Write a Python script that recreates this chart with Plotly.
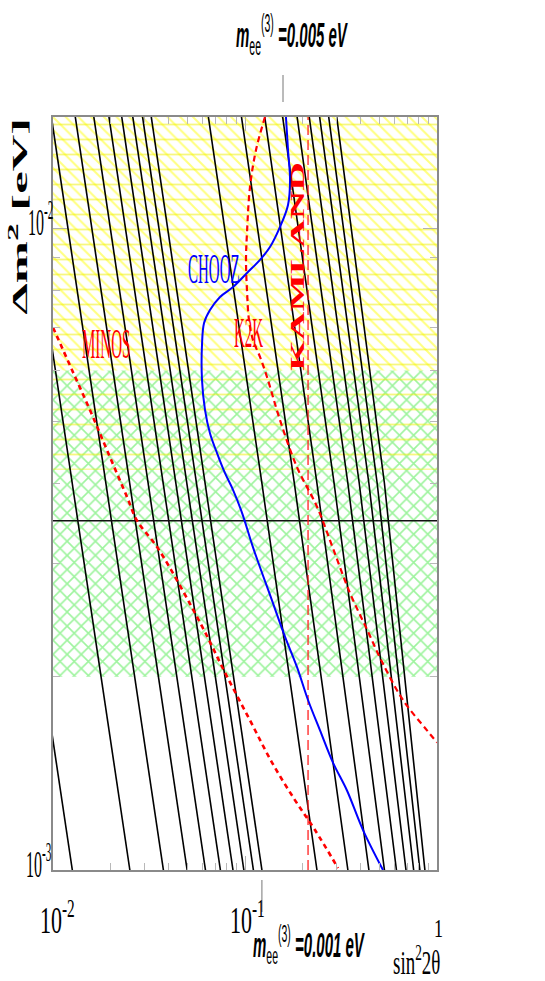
import plotly.graph_objects as go
import json
import math

# ---------------- data ----------------
# m_ee^(3) contour levels [eV]
MEE_LEVELS = [0.0001, 0.0002, 0.0003, 0.0004, 0.0005, 0.0006, 0.0007, 0.0008, 0.0009,
              0.001, 0.002, 0.003, 0.004, 0.005, 0.006, 0.007, 0.008, 0.009, 0.01]
# Delta m^2 values at which the sin^2 2theta position of each contour was read
CONTOUR_DM2 = [0.001, 0.004, 0.016]
CONTOUR_X = [
    [0.012609, 0.006315, 0.003160],
    [0.025138, 0.012609, 0.006315],
    [0.037587, 0.018884, 0.009464],
    [0.049956, 0.025138, 0.012609],
    [0.062246, 0.031373, 0.015749],
    [0.074455, 0.037587, 0.018884],
    [0.086584, 0.043782, 0.022014],
    [0.098633, 0.049956, 0.025138],
    [0.110602, 0.056111, 0.028258],
    [0.122491, 0.062246, 0.031373],
    [0.236982, 0.122491, 0.062246],
    [0.343473, 0.180737, 0.092618],
    [0.441964, 0.236982, 0.122491],
    [0.532456, 0.291228, 0.151864],
    [0.614947, 0.343473, 0.180737],
    [0.689438, 0.393719, 0.209110],
    [0.755929, 0.441964, 0.236982],
    [0.814420, 0.488210, 0.264355],
    [0.864911, 0.532456, 0.291228],
]

MINOS_X = [0.0100, 0.01256, 0.0156, 0.0191, 0.0243, 0.0274, 0.0352, 0.0583, 0.0787,
           0.1062, 0.1383, 0.182, 0.2316, 0.305]
MINOS_Y = [0.0070, 0.00601, 0.0052, 0.00451, 0.00381, 0.00350, 0.00317, 0.00243, 0.00203,
           0.00171, 0.00147, 0.001285, 0.001154, 0.001007]

K2K_X = [0.1271, 0.1141, 0.1062, 0.1024, 0.1012, 0.1024, 0.1049, 0.1101, 0.1197, 0.1302,
         0.1522, 0.1866, 0.2371, 0.2872, 0.3522, 0.4318, 0.517, 0.665, 0.887, 1.0]
K2K_Y = [0.01489, 0.01323, 0.01159, 0.00982, 0.00892, 0.0080, 0.00719, 0.00669, 0.00630,
         0.00586, 0.00502, 0.00424, 0.00368, 0.00317, 0.00270, 0.00237, 0.00211, 0.00184,
         0.00165, 0.00158]

CHOOZ_X = [0.1634, 0.1675, 0.1716, 0.1675, 0.1522, 0.1349, 0.1197, 0.1024, 0.0866, 0.0741,
           0.0657, 0.0612, 0.0597, 0.0597, 0.0619, 0.0657, 0.0715, 0.0787, 0.0866, 0.0965,
           0.1101, 0.1382, 0.1615, 0.1866, 0.2129, 0.2459, 0.2872, 0.3398, 0.4118, 0.5233]
CHOOZ_Y = [0.01489, 0.01323, 0.01188, 0.01086, 0.01004, 0.00934, 0.00892, 0.00851, 0.00809,
           0.00781, 0.00745, 0.00711, 0.00657, 0.00580, 0.00521, 0.00479, 0.00446, 0.00415,
           0.00391, 0.00360, 0.00318, 0.00263, 0.00231, 0.00207, 0.00184, 0.00165, 0.00147,
           0.00133, 0.001154, 0.0010]

KAMLAND_X = 0.213          # vertical dashed line
SK_BEST_DM2 = 0.0035       # horizontal black line
GREEN_BAND = [0.002, 0.006]
YELLOW_LINES_BAND = [0.0042, 0.02]
YELLOW_DIAG_BAND = [0.006, 0.02]

X_RANGE = [0.01, 1.0]
Y_RANGE = [0.001, 0.01489]

MEE_TOP_LABEL = 0.005
MEE_BOTTOM_LABEL = 0.001

# ---------------- figure ----------------
fig = go.Figure()

def band(lo, hi, shape, color, size, solidity):
    fig.add_trace(go.Scatter(
        x=[X_RANGE[0], X_RANGE[1], X_RANGE[1], X_RANGE[0], X_RANGE[0]],
        y=[lo, lo, hi, hi, lo], mode="lines", line=dict(width=0),
        fill="toself", fillcolor="rgba(0,0,0,0)",
        fillpattern=dict(shape=shape, fgcolor=color, bgcolor="rgba(0,0,0,0)",
                         size=size, solidity=solidity),
        hoverinfo="skip", showlegend=False))

band(GREEN_BAND[0], GREEN_BAND[1], "x", "#3ee83e", 10, 0.3)
band(YELLOW_DIAG_BAND[0], YELLOW_DIAG_BAND[1], "\\", "#ffff00", 9, 0.22)
band(YELLOW_LINES_BAND[0], YELLOW_LINES_BAND[1], "-", "#f0f000", 15, 0.12)

for xs in CONTOUR_X:
    fig.add_trace(go.Scatter(x=xs, y=CONTOUR_DM2, mode="lines",
                             line=dict(color="black", width=1.6),
                             hoverinfo="skip", showlegend=False))

fig.add_trace(go.Scatter(x=X_RANGE, y=[SK_BEST_DM2, SK_BEST_DM2], mode="lines",
                         line=dict(color="#111", width=1.6), showlegend=False))
fig.add_trace(go.Scatter(x=[KAMLAND_X, KAMLAND_X], y=Y_RANGE, mode="lines",
                         line=dict(color="#ff2020", width=1.3, dash="10px,5px"),
                         showlegend=False))
fig.add_trace(go.Scatter(x=MINOS_X, y=MINOS_Y, mode="lines", line_shape="spline",
                         line=dict(color="#ff0000", width=2.6, dash="5px,4px"),
                         showlegend=False))
fig.add_trace(go.Scatter(x=K2K_X, y=K2K_Y, mode="lines", line_shape="spline",
                         line=dict(color="#ff0000", width=2.2, dash="6px,4px"),
                         showlegend=False))
fig.add_trace(go.Scatter(x=CHOOZ_X, y=CHOOZ_Y, mode="lines", line_shape="spline",
                         line=dict(color="#0000ff", width=2.0),
                         showlegend=False))

axis_common = dict(type="log", showgrid=False, zeroline=False, showline=True,
                   linecolor="#8a8a8a", linewidth=2, mirror="ticks",
                   ticks="inside", ticklen=14, tickcolor="#b0b0b0", tickwidth=1,
                   dtick=1, showticklabels=False,
                   minor=dict(ticks="inside", ticklen=7, tickcolor="#b8b8b8",
                              tickwidth=1, showgrid=False))

fig.update_layout(
    width=545, height=981, autosize=False,
    margin=dict(l=53, r=108, t=117, b=111, pad=0),
    paper_bgcolor="white", plot_bgcolor="white",
    xaxis=dict(range=[math.log10(X_RANGE[0]), math.log10(X_RANGE[1])], **axis_common),
    yaxis=dict(range=[math.log10(Y_RANGE[0]), math.log10(Y_RANGE[1])], **axis_common),
    showlegend=False,
)

# pixel -> paper helpers for text placement
PL, PR, PT, PB = 53, 437, 117, 870
def px(xp):
    return (xp - PL) / (PR - PL)
def py(yp):
    return (PB - yp) / (PB - PT)

SERIF = "Liberation Serif"
SANS = "Liberation Sans"
ann = []   # (x_px, y_px, text, size, color, family, angle, scaleY)
ann.append((57, 917, "10<sup>-2</sup>", 22, "black", SERIF, 0, 1.7))
ann.append((247, 917, "10<sup>-1</sup>", 22, "black", SERIF, 0, 1.7))
ann.append((438, 929, "1", 18, "black", SERIF, 0, 1.4))
ann.append((40, 219, "10<sup>-2</sup>", 16, "black", SERIF, 0, 2.4))
ann.append((39, 861, "10<sup>-3</sup>", 16, "black", SERIF, 0, 2.4))
ann.append((416, 960, "sin<sup>2</sup>2θ", 19, "black", SERIF, 0, 1.75))
ann.append((18, 216, "<b>Δm<sup>2</sup> [eV]</b>", 22, "black", SERIF, -90, 2.3))
ann.append((106, 344, "MINOS", 15, "#ff0000", SERIF, 0, 2.8))
ann.append((214, 269, "CHOOZ", 15, "#0000ff", SERIF, 0, 2.8))
ann.append((248, 333, "K2K", 15, "#ff0000", SERIF, 0, 2.8))
ann.append((298, 267, "<b>KAMLAND</b>", 18, "#ff0000", SERIF, -90, 2.2))
ann.append((292, 33, "<b><i>m</i></b><sub>ee</sub><sup>(3)</sup> <b><i>=%g eV</i></b>" % MEE_TOP_LABEL,
            15, "black", SANS, 0, 2.4))
ann.append((309, 944, "<b><i>m</i></b><sub>ee</sub><sup>(3)</sup> <b><i>=%g eV</i></b>" % MEE_BOTTOM_LABEL,
            15, "black", SANS, 0, 2.3))

scales = []
for (xp, yp, t, s, c, fam, ang, k) in ann:
    fig.add_annotation(x=px(xp), y=py(yp), xref="paper", yref="paper", text=t,
                       showarrow=False, xanchor="center", yanchor="middle",
                       textangle=ang, font=dict(size=s, color=c, family=fam))
    scales.append(k)

# m_ee marker ticks outside the frame
xtop = px(283)
xbot = (math.log10(CONTOUR_X[MEE_LEVELS.index(MEE_BOTTOM_LABEL)][0]) + 2) / 2
fig.add_shape(type="line", xref="paper", yref="paper", x0=xtop, x1=xtop,
              y0=py(102), y1=py(75), line=dict(color="#777", width=1))
fig.add_shape(type="line", xref="paper", yref="paper", x0=xbot, x1=xbot,
              y0=py(880), y1=py(912), line=dict(color="#777", width=1))

post = """
document.documentElement.style.margin = '0';
document.documentElement.style.padding = '0';
document.body.style.margin = '0';
document.body.style.padding = '0';
document.body.style.overflow = 'hidden';
var k = %s;
document.querySelectorAll('g.annotation').forEach(function(g){
  var i = parseInt(g.getAttribute('data-index'));
  var s = k[i];
  if (s && s !== 1) {
    g.style.transformBox = 'fill-box';
    g.style.transformOrigin = '50%% 50%%';
    g.style.transform = 'scaleY(' + s + ')';
  }
});
""" % json.dumps(scales)

fig.write_html("out.html", post_script=post, config={"displayModeBar": False})
